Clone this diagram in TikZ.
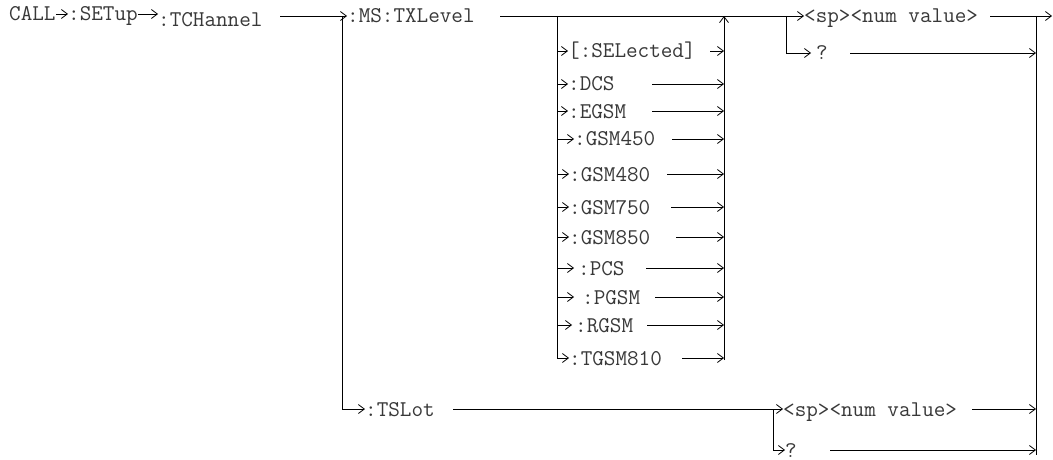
\documentclass[tikz,border=0pt]{standalone}
\usepackage{fontspec}
\usetikzlibrary{arrows.meta}
\begin{document}
\begin{tikzpicture}[x=1pt,y=-1pt,
  lbl/.style={anchor=west, inner sep=0pt, font=\ttfamily\fontsize{22.5}{22.5}\selectfont, text=black!78, text height=14pt, text depth=0pt},
  ln/.style={line width=0.8pt},
  conn/.style={line width=0.8pt, -{Straight Barb[length=6pt,width=9pt,line width=0.8pt]}}]
\useasboundingbox[fill=white] (0,0) rectangle (1053,460);
% text nodes
\node[lbl] (call)  at (9,14)    {CALL};
\node[lbl] (setup) at (68,14)   {:SETup};
\node[lbl] (tch)   at (158,20)  {:TCHannel};
\node[lbl] (mstx)  at (347,16)  {:MS:TXLevel};
\node[lbl] (sel)   at (568,51)  {[:SELected]};
\node[lbl] (dcs)   at (568,84)  {:DCS};
\node[lbl] (egsm)  at (568,111) {:EGSM};
\node[lbl] (g450)  at (574,139) {:GSM450};
\node[lbl] (g480)  at (569,174) {:GSM480};
\node[lbl] (g750)  at (569,207) {:GSM750};
\node[lbl] (g850)  at (569,237) {:GSM850};
\node[lbl] (pcs)   at (578,268) {:PCS};
\node[lbl] (pgsm)  at (582,297) {:PGSM};
\node[lbl] (rgsm)  at (575,325) {:RGSM};
\node[lbl] (tgsm)  at (569,358) {:TGSM810};
\node[lbl] (sp1)   at (804,16)  {<sp><num value>};
\node[lbl] (q1)    at (816,53)  {?};
\node[lbl] (tslot) at (365,409) {:TSLot};
\node[lbl] (sp2)   at (783,409) {<sp><num value>};
\node[lbl] (q2)    at (785,450) {?};
% coordinates
\coordinate (t0) at (280,16);
\coordinate (b1) at (342,16);
\coordinate (m0) at (500,16);
\coordinate (lb) at (557,16);
\coordinate (rbTop) at (724,16);
\coordinate (rbBot) at (724,360);
\coordinate (br1) at (786,16);
\coordinate (sp1E) at (990,16);
\coordinate (out) at (1052,16);
\coordinate (rTop) at (1036,16);
\coordinate (rBot) at (1036,455);
\coordinate (q1E) at (850,53);
\coordinate (selE) at (710,51);
\coordinate (dcsE) at (652,84);
\coordinate (egsmE) at (652,111);
\coordinate (g450E) at (672,139);
\coordinate (g480E) at (667,174);
\coordinate (g750E) at (671,207);
\coordinate (g850E) at (676,237);
\coordinate (pcsE) at (646,268);
\coordinate (pgsmE) at (655,297);
\coordinate (rgsmE) at (647,325);
\coordinate (tgsmE) at (682,358);
\coordinate (tslotE) at (453,409);
\coordinate (br2) at (773,409);
\coordinate (sp2E) at (972,409);
\coordinate (q2E) at (830,450);
% top row
\draw[conn] (call) -- (setup);
\draw[conn] (setup.east) -- (setup.east -| tch.west);
\draw[conn] (t0) -- (mstx.west);
\draw[conn] (b1) |- (tslot.west);
\draw[conn] (m0) -- (sp1.west);
\draw[conn] (sp1E) -- (out);
\draw[ln] (rTop) -- (rBot);
\draw[conn, shorten >=5pt] (br1) |- (q1.west);
\draw[conn] (q1E) -- (q1E -| rTop);
% list
\draw[conn] (lb) |- (tgsm.west);
\foreach \n in {sel,dcs,egsm,g450,g480,g750,g850}
  \draw[conn] (lb |- \n.west) -- (\n.west);
\draw[conn, shorten >=4pt] (lb |- pcs.west) -- (pcs.west);
\draw[conn, shorten >=8pt] (lb |- pgsm.west) -- (pgsm.west);
\draw[conn, shorten >=3pt] (lb |- rgsm.west) -- (rgsm.west);
\foreach \n in {sel,dcs,egsm,g450,g480,g750,g850,pcs,pgsm,rgsm,tgsm}
  \draw[conn] (\n E) -- (\n E -| rbTop);
\draw[conn] (rbBot) -- (rbTop);
% bottom rows
\draw[conn] (tslotE) -- (sp2.west);
\draw[conn] (br2) |- (q2.west);
\draw[conn] (sp2E) -- (sp2E -| rTop);
\draw[conn] (q2E) -- (q2E -| rTop);
\end{tikzpicture}
\end{document}
